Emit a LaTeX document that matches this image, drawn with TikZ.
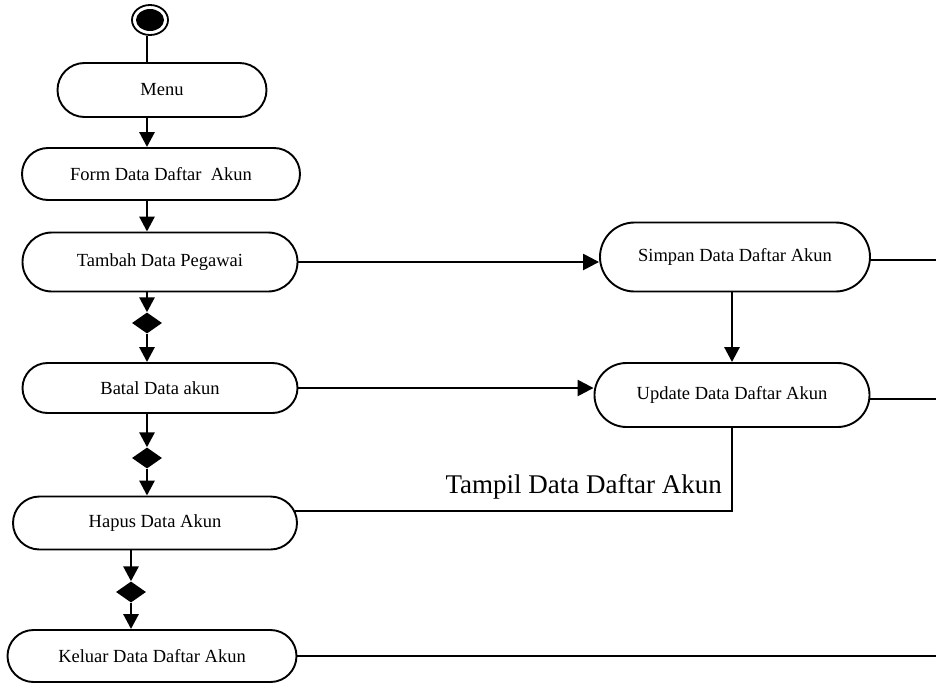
\documentclass[tikz,border=0pt]{standalone}
\usepackage{fontspec}
\setmainfont{Liberation Serif}
\usetikzlibrary{shapes.misc,shapes.geometric,arrows.meta,calc}

\begin{document}
\begin{tikzpicture}[x=1pt,y=-1pt,
  act/.style={rounded rectangle, draw, line width=1.9pt, inner sep=0pt,
    font=\fontsize{18.5}{20}\selectfont},
  fork/.style={diamond, fill=black, draw=none, inner sep=0pt,
    minimum width=30pt, minimum height=21pt},
  flow/.style={line width=2.9pt, -{Triangle[length=15pt,width=15pt]}},
  side/.style={line width=2.5pt, -{Triangle[length=16pt,width=16pt]}},
  link/.style={line width=1.6pt},
  biglabel/.style={font=\fontsize{27}{29}\selectfont, inner sep=0pt}]
\useasboundingbox (0,0) rectangle (936,682);

% start state
\node[ellipse, draw, line width=1.8pt, minimum width=36pt, minimum height=30pt,
      inner sep=0pt] (start) at (150,20) {};
\fill (start.center) ellipse [x radius=14, y radius=11];

% activities
\node[act, minimum width=209pt, minimum height=54pt] (menu)   at (162,90)  {Menu};
\node[act, minimum width=278pt, minimum height=52pt] (form)   at (161,174) {Form Data Daftar\ \ Akun};
\node[act, minimum width=275pt, minimum height=59pt] (tambah) at (160,262) {Tambah Data Pegawai};
\node[act, minimum width=275pt, minimum height=50pt] (batal)  at (160,388) {Batal Data akun};
\node[act, minimum width=284pt, minimum height=53pt] (hapus)  at (155,523) {Hapus Data Akun};
\node[act, minimum width=289pt, minimum height=52pt] (keluar) at (152,656) {Keluar Data Daftar Akun};
\node[act, minimum width=270pt, minimum height=69pt] (simpan) at (735,257) {Simpan Data Daftar Akun};
\node[act, minimum width=275pt, minimum height=64pt] (update) at (732,395) {Update Data Daftar Akun};

% decision points
\node[fork] (d1) at (147,323) {};
\node[fork] (d2) at (147,458) {};
\node[fork] (d3) at (131,592) {};

% main column
\coordinate (col) at (147,0);
\draw[line width=1.8pt] (start.south -| col) -- (menu.north -| col);
\draw[flow] (menu.south -| col) -- (form.north -| col);
\draw[flow] (form.south -| col) -- (tambah.north -| col);
\draw[flow] (tambah.south -| col) -- (d1.north);
\draw[flow] (d1.south) -- (batal.north -| col);
\draw[flow] (batal.south -| col) -- (d2.north);
\draw[flow] (d2.south) -- (hapus.north -| col);
\draw[flow] (hapus.south -| d3) -- (d3.north);
\draw[flow] (d3.south) -- (keluar.north -| d3);

% right-hand branch
\draw[side] (tambah.east) -- (tambah.east -| simpan.west);
\draw[side] (batal.east) -- (batal.east -| update.west);
\draw[flow] (simpan.south -| update) -- (update.north);

% connectors running off the right edge
\coordinate (edge) at (936,0);
\draw[link] ($(simpan.east)+(0,3)$) -- (edge |- {$(simpan.east)+(0,3)$});
\draw[link] ($(update.east)+(0,4)$) -- (edge |- {$(update.east)+(0,4)$});
\draw[line width=2.6pt] (keluar.east) -- (keluar.east -| edge);

% display path back to the delete activity
\draw[link] (update.south) |- (hapus.5);
\node[biglabel, anchor=base east] (tampil) at (722,493) {Tampil Data Daftar Akun};
\end{tikzpicture}
\end{document}
